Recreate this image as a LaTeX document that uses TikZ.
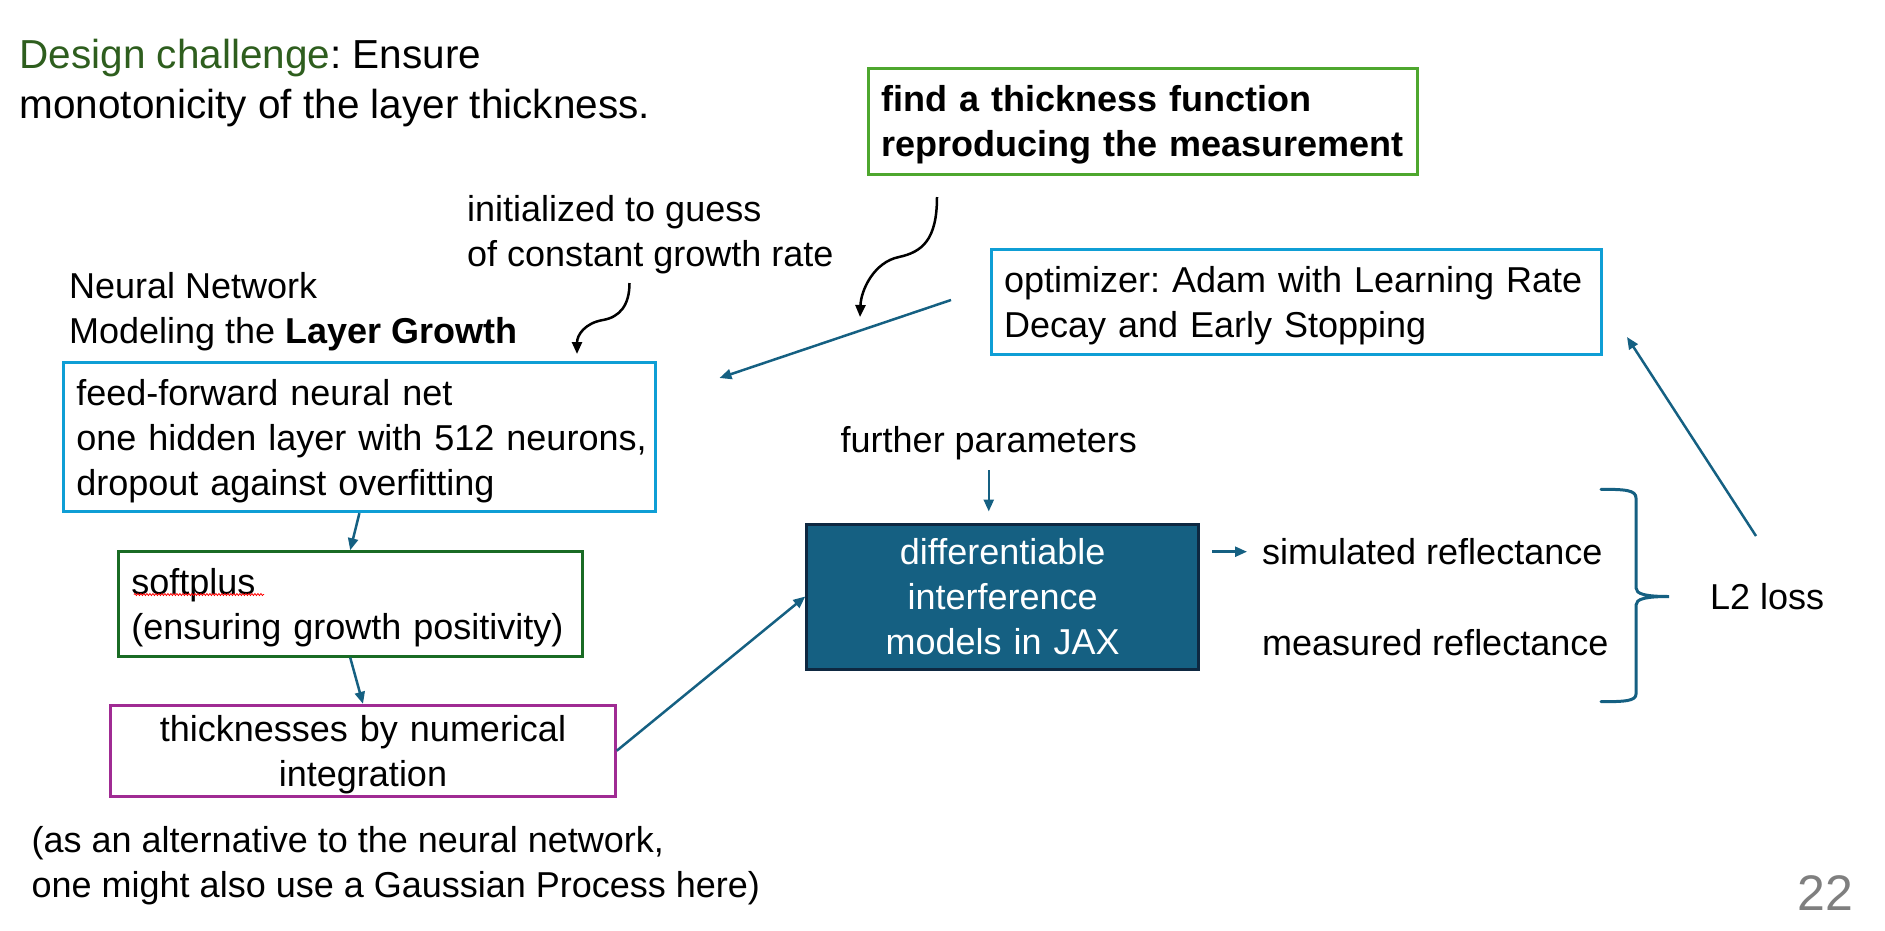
\documentclass[tikz,border=0pt]{standalone}
\usepackage{fontspec}
\setmainfont{Liberation Sans}
\usetikzlibrary{arrows.meta,calc,decorations.pathmorphing}
\definecolor{goalgreen}{HTML}{4EA72E}
\definecolor{dkgreen}{HTML}{196B24}
\definecolor{txtgreen}{HTML}{2E5E1E}
\definecolor{nnblue}{HTML}{0F9ED5}
\definecolor{purp}{HTML}{A02B93}
\definecolor{myteal}{HTML}{156082}
\definecolor{mynavy}{HTML}{0E2841}
\definecolor{pgray}{HTML}{7F7F7F}
\newcommand\mystrut{\rule[-9.5pt]{0pt}{45pt}}
\newcommand\bigstrut{\rule[-10.5pt]{0pt}{50pt}}
\frenchspacing
\begin{document}
\begin{tikzpicture}[x=1pt,y=-1pt,
  box/.style={draw,line width=3pt,inner xsep=13pt,inner ysep=0pt,align=left,
    font=\fontsize{36}{45}\selectfont,
    execute at begin node=\mystrut,execute at end node=\mystrut},
  lbl/.style={inner sep=0pt,anchor=west,align=left,font=\fontsize{36}{45}\selectfont,
    execute at begin node=\mystrut,execute at end node=\mystrut},
  biglbl/.style={inner sep=0pt,anchor=west,align=left,font=\fontsize{40.5}{50}\selectfont,
    execute at begin node=\bigstrut,execute at end node=\bigstrut},
  conn/.style={draw=myteal,line width=2.5pt,-{Triangle[length=12pt,width=10pt]}},
  curv/.style={draw=black,line width=2.5pt,-{Triangle[length=12pt,width=10pt]}},
  bracestyle/.style={draw=myteal,line width=3pt,line cap=round}]
\useasboundingbox (0,0) rectangle (1885,930);

% boxes
\node[box,draw=goalgreen,text width=523pt,minimum height=106pt,
  font=\fontsize{36}{45}\selectfont\bfseries] (goal) at (1143,121)
  {find a thickness function\\\mbox{reproducing the measurement}};
\node[box,draw=nnblue,text width=584.6pt,minimum height=105pt] (opt) at (1296.3,301.5)
  {\mbox{optimizer: Adam with Learning Rate}\\Decay and Early Stopping};
\node[box,draw=nnblue,text width=566.2pt,minimum height=149pt] (nn) at (359.4,437.2)
  {feed-forward neural net\\\mbox{one hidden layer with 512 neurons,}\\dropout against overfitting};
\node[box,draw=dkgreen,text width=437.6pt,minimum height=104.3pt] (soft) at (350.2,603.9)
  {softplus\\\mbox{(ensuring growth positivity)}};
\node[box,draw=purp,align=center,text width=478.6pt,minimum height=90.7pt] (thick) at (363,750.7)
  {thicknesses by numerical\\integration};
\node[box,draw=mynavy,fill=myteal,text=white,align=center,text width=365.8pt,minimum height=145pt] (diff) at (1002.7,596.5)
  {differentiable\\interference\\models in JAX};

% labels
\node[biglbl] (design) at (19.5,84)
  {\textcolor{txtgreen}{Design challenge}: Ensure\\monotonicity of the layer thickness.};
\node[lbl] (init) at (467,235.5) {initialized to guess\\of constant growth rate};
\node[lbl] (neural) at (69,313) {Neural Network\\Modeling the \textbf{Layer Growth}};
\node[lbl] (further) at (840.5,439.3) {further parameters};
\node[lbl] (sim) at (1262,551.7) {simulated reflectance};
\node[lbl] (meas) at (1262,642.7) {measured reflectance};
\node[lbl] (l2) at (1710,596.7) {L2 loss};
\node[lbl] (alt) at (31.5,866.5)
  {(as an alternative to the neural network,\\one might also use a Gaussian Process here)};
\node[font=\fontsize{50}{60}\selectfont,text=pgray,inner sep=0pt] (page) at (1825,893) {22};

% free ends
\coordinate (a1s) at (629.5,283);
\coordinate (a1e) at (577,354);
\coordinate (a2s) at (937,197);
\coordinate (a2e) at (860,317);
\coordinate (optw) at (951,300);
\coordinate (nnr) at (719.5,378);
\coordinate (l2s) at (1756,536);
\coordinate (opte) at (1627,337);

% connectors
\draw[curv] (a1s) .. controls (629.5,305) and (620,317) .. (603,320)
  .. controls (585,323) and (577,335) .. (a1e);
\draw[curv] (a2s) .. controls (937,240) and (922,252) .. (899,257)
  .. controls (874,262) and (861,290) .. (a2e);
\draw[conn] (optw) -- (nnr);
\draw[conn] (l2s) -- (opte);
\draw[conn] (nn.south) -- (soft.north);
\draw[conn] (soft.south) -- (thick.north);
\draw[conn] (thick.east) -- (diff.west);
\draw[conn,shorten <=8pt,shorten >=11pt] (further.south) -- (further.south |- diff.north);
\draw[conn,shorten <=12pt,shorten >=15pt] (diff.east |- sim.west) -- (sim.west);

% brace
\draw[bracestyle] (1601,489.3) .. controls (1625,489.3) and (1636,490) .. (1636,498)
  -- (1636,588) .. controls (1636,594) and (1645,596.5) .. (1669,596.5)
  .. controls (1645,596.5) and (1636,599) .. (1636,605)
  -- (1636,694) .. controls (1636,701) and (1625,701.7) .. (1601,701.7);

% spell-check underline
\draw[red,line width=0.8pt,decorate,decoration={snake,amplitude=1pt,segment length=3pt}]
  (134,594.5) -- (264,594.5);
\end{tikzpicture}
\end{document}
